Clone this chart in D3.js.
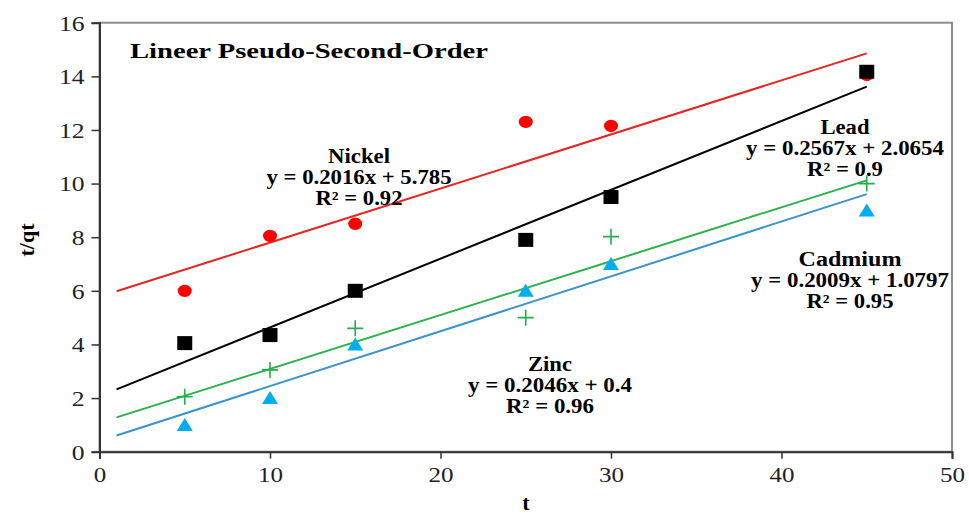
<!DOCTYPE html>
<html>
<head>
<meta charset="utf-8">
<script src="https://cdn.jsdelivr.net/npm/d3@7"></script>
<style>
  body { margin: 0; background: #fff; }
  svg text { font-family: "Liberation Serif", "Times New Roman", Tinos, serif; }
</style>
</head>
<body>
<div id="chart"></div>
<script>
// sample times
var times = [5, 10, 15, 25, 30, 45];

// t/qt values
var nickel = [6.0, 8.05, 8.5, 12.3, 12.15, 14.05];
var lead = [4.05, 4.35, 6.0, 7.9, 9.5, 14.17];
var cadmium = [2.05, 3.05, 4.6, 5.0, 8.02, 10.0];
var zinc = [1.0, 2.0, 4.0, 6.0, 7.0, 9.0];

// trend lines (slope, intercept) as printed on the chart
var slopes = { Nickel: 0.2016, Lead: 0.2567, Cadmium: 0.2009, Zinc: 0.2046 };
var intercepts = { Nickel: 5.785, Lead: 2.0654, Cadmium: 1.0797, Zinc: 0.4 };
var rSquared = { Nickel: "0.92", Lead: "0.9", Cadmium: "0.95", Zinc: "0.96" };
var trendRange = [1, 45];

var xTicks = [0, 10, 20, 30, 40, 50];
var yTicks = [0, 2, 4, 6, 8, 10, 12, 14, 16];

var w = 969;
var h = 518;
var serif = "'Liberation Serif', 'Times New Roman', Tinos, serif";

var x = d3.scaleLinear().domain([0, 50]).range([99.5, 952]);
var y = d3.scaleLinear().domain([0, 16]).range([451.7, 22.7]);

var svg = d3
  .select("#chart")
  .append("svg")
  .attr("width", w)
  .attr("height", h)
  .attr("font-family", serif);

// plot frame (grey top/right)
svg.append("rect")
  .attr("x", x(0))
  .attr("y", y(16))
  .attr("width", x(50) - x(0))
  .attr("height", y(0) - y(16))
  .attr("fill", "none")
  .attr("stroke", "#8c8c8c")
  .attr("stroke-width", 2);

// axes
var xAxis = svg.append("g")
  .attr("transform", "translate(0," + y(0) + ")")
  .call(d3.axisBottom(x).tickValues(xTicks).tickSize(7).tickPadding(8));
var yAxis = svg.append("g")
  .attr("transform", "translate(" + x(0) + ",0)")
  .call(d3.axisLeft(y).tickValues(yTicks).tickSize(8).tickPadding(7));

[xAxis, yAxis].forEach((g) => {
  g.attr("font-family", serif).attr("font-size", 21);
  g.select(".domain").attr("stroke", "#333").attr("stroke-width", 2);
  g.selectAll(".tick line").attr("stroke", "#333").attr("stroke-width", 1.5);
  g.selectAll(".tick text").attr("fill", "#222");
});
yAxis.selectAll(".tick text").attr("dy", "0.35em");

// wider digits like the original
xAxis.selectAll(".tick text").each(function (d) {
  d3.select(this)
    .attr("textLength", String(d).length * 12.5)
    .attr("lengthAdjust", "spacingAndGlyphs");
});
yAxis.selectAll(".tick text").each(function (d) {
  d3.select(this)
    .attr("textLength", String(d).length * 12.8)
    .attr("lengthAdjust", "spacingAndGlyphs");
});

// axis titles
svg.append("text")
  .attr("transform", "translate(34,240) rotate(-90)")
  .attr("text-anchor", "middle")
  .attr("font-size", 22)
  .attr("font-weight", "bold")
  .text("t/qt");

svg.append("text")
  .attr("x", 526)
  .attr("y", 510)
  .attr("text-anchor", "middle")
  .attr("font-size", 22)
  .attr("font-weight", "bold")
  .text("t");

// title
svg.append("text")
  .attr("x", 130)
  .attr("y", 58)
  .attr("textLength", 358)
  .attr("lengthAdjust", "spacingAndGlyphs")
  .attr("font-size", 22)
  .attr("font-weight", "bold")
  .text("Lineer Pseudo-Second-Order");

var series = [
  { name: "Nickel", values: nickel, color: "#ff0000", line: "#e3261f", shape: "circle" },
  { name: "Lead", values: lead, color: "#000000", line: "#000000", shape: "square" },
  { name: "Cadmium", values: cadmium, color: "#22ad4a", line: "#2bb24c", shape: "plus" },
  { name: "Zinc", values: zinc, color: "#00aeef", line: "#3c93cc", shape: "triangle" }
];

// trend lines
svg.append("g").selectAll(".trend")
  .data(series)
  .enter()
  .append("line")
  .attr("class", "trend")
  .attr("x1", x(trendRange[0]))
  .attr("x2", x(trendRange[1]))
  .attr("y1", (d) => y(slopes[d.name] * trendRange[0] + intercepts[d.name]))
  .attr("y2", (d) => y(slopes[d.name] * trendRange[1] + intercepts[d.name]))
  .attr("stroke", (d) => d.line)
  .attr("stroke-width", 2);

// markers (drawn in order so black squares sit over red dots)
var drawOrder = [series[3], series[2], series[0], series[1]];
drawOrder.forEach((s) => {
  var pts = times.map((t, i) => ({ t: t, v: s.values[i] }));
  var g = svg.append("g");
  if (s.shape == "circle") {
    g.selectAll("ellipse").data(pts).enter().append("ellipse")
      .attr("cx", (d) => x(d.t)).attr("cy", (d) => y(d.v))
      .attr("rx", 7).attr("ry", 6.2)
      .attr("fill", s.color);
  } else if (s.shape == "square") {
    g.selectAll("rect").data(pts).enter().append("rect")
      .attr("x", (d) => x(d.t) - 7.5).attr("y", (d) => y(d.v) - 7)
      .attr("width", 15).attr("height", 14)
      .attr("fill", s.color);
  } else if (s.shape == "triangle") {
    g.selectAll("path").data(pts).enter().append("path")
      .attr("d", (d) => {
        var cx = x(d.t), cy = y(d.v);
        return "M" + (cx - 8) + "," + (cy + 6) + "L" + (cx + 8) + "," + (cy + 6) + "L" + cx + "," + (cy - 7) + "Z";
      })
      .attr("fill", s.color);
  } else {
    g.selectAll("path").data(pts).enter().append("path")
      .attr("d", (d) => {
        var cx = x(d.t), cy = y(d.v);
        return "M" + (cx - 8) + "," + cy + "H" + (cx + 8) + "M" + cx + "," + (cy - 8) + "V" + (cy + 8);
      })
      .attr("stroke", s.color)
      .attr("stroke-width", 1.6)
      .attr("fill", "none");
  }
});

// equation labels
var labelPos = [
  { name: "Nickel", cx: 359, y0: 163, w: [62, 185, 87] },
  { name: "Lead", cx: 845, y0: 134, w: [49, 198, 76] },
  { name: "Cadmium", cx: 850, y0: 266, w: [103, 198, 87] },
  { name: "Zinc", cx: 550, y0: 371, w: [44, 164, 88] }
];

labelPos.forEach((p) => {
  var lines = [
    p.name,
    "y = " + slopes[p.name] + "x + " + intercepts[p.name],
    "R\u00b2 = " + rSquared[p.name]
  ];
  lines.forEach((txt, i) => {
    svg.append("text")
      .attr("x", p.cx)
      .attr("y", p.y0 + i * 20.8)
      .attr("text-anchor", "middle")
      .attr("textLength", p.w[i])
      .attr("lengthAdjust", "spacingAndGlyphs")
      .attr("font-size", 20)
      .attr("font-weight", "bold")
      .text(txt);
  });
});
</script>
</body>
</html>
